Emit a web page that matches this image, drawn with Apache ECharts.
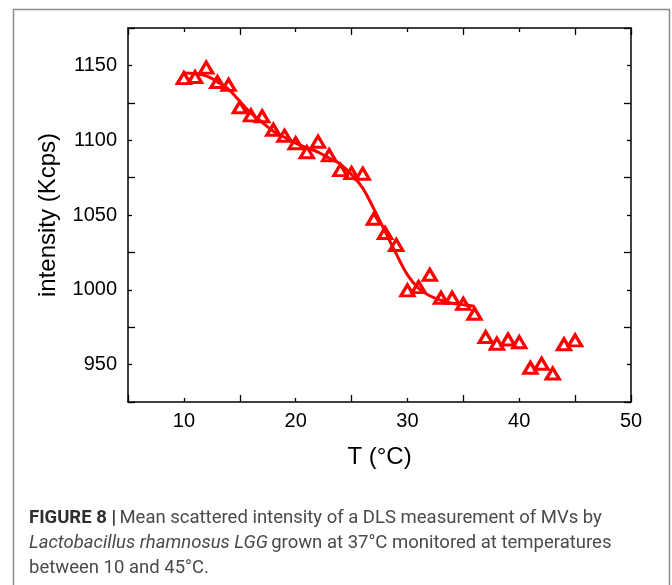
<!doctype html>
<html lang="en">
<head>
    <meta charset="UTF-8">
    <script src="https://cdn.jsdelivr.net/npm/echarts@6/dist/echarts.min.js"></script>
    <title>DLS intensity vs temperature</title>
    <style>
        html, body { margin: 0; padding: 0; background: #fff; }
    </style>
</head>
<body>
<div id="main" style="width: 672px;height:585px;"></div>
<script>
    // measured points (T in °C, intensity in Kcps)
    var temps = [10, 11, 12, 13, 14, 15, 16, 17, 18, 19, 20, 21, 22, 23, 24, 25, 26, 27,
        28, 29, 30, 31, 32, 33, 34, 35, 36, 37, 38, 39, 40, 41, 42, 43, 44, 45];
    var intensity = [1141.5, 1142.2, 1148.5, 1138.9, 1137, 1122, 1116.6, 1116, 1107, 1103,
        1098, 1092, 1099, 1090, 1080, 1078, 1077.6, 1047.5, 1038, 1030, 999.6, 1001.8, 1010,
        994.6, 994.6, 990.6, 984, 968.4, 964, 966.8, 965, 947.9, 950.6, 944, 963.6, 966.2];

    // fitted curve
    var fitT = [10, 11, 12, 13, 14, 15, 16, 17, 18, 19, 20, 21, 22, 23, 24, 25, 26, 27,
        28, 29, 30, 31, 32, 33, 34, 35, 36];
    var fitY = [1145, 1144.5, 1143, 1139, 1134, 1126, 1118, 1112, 1106, 1102, 1098, 1095,
        1092, 1088, 1084, 1077, 1068, 1054, 1039, 1024, 1010, 1001, 996, 993, 991, 990, 989];

    var xTicks = [10, 20, 30, 40, 50];
    var yTicks = [950, 1000, 1050, 1100, 1150];

    var myChart = echarts.init(document.getElementById('main'));

    var pts = [];
    for (var i = 0; i < temps.length; i++) {
        pts.push([temps[i], intensity[i]]);
    }
    var fit = [];
    for (var j = 0; j < fitT.length; j++) {
        fit.push([fitT[j], fitY[j]]);
    }

    var axisFont = '"Liberation Sans", Arial, sans-serif';
    var capFont = 'Roboto, "Liberation Sans", sans-serif';

    function frameAxis(pos, isX) {
        return {
            type: 'value',
            position: pos,
            min: isX ? 5 : 925,
            max: isX ? 50 : 1175,
            interval: isX ? 10 : 50,
            axisLine: {show: true, onZero: false, lineStyle: {color: '#000', width: 1.5}},
            axisTick: {show: true, inside: true, length: 7, lineStyle: {color: '#000', width: 1.3}},
            minorTick: {show: true, splitNumber: 2, length: 4, lineStyle: {color: '#000', width: 1.3}},
            splitLine: {show: false},
            axisLabel: {show: false}
        };
    }

    var xMain = frameAxis('bottom', true);
    xMain.axisLabel = {
        show: true, margin: 9, color: '#000', fontSize: 20, fontFamily: axisFont,
        customValues: xTicks,
        formatter: function (v) { return String(v); }
    };
    xMain.name = 'T (°C)';
    xMain.nameLocation = 'middle';
    xMain.nameGap = 43;
    xMain.nameTextStyle = {color: '#000', fontSize: 24, fontFamily: axisFont};

    var yMain = frameAxis('left', false);
    yMain.axisLabel = {
        show: true, margin: 11, color: '#000', fontSize: 20, fontFamily: axisFont,
        customValues: yTicks,
        formatter: function (v) { return String(v); }
    };
    yMain.name = 'intensity (Kcps)';
    yMain.nameLocation = 'middle';
    yMain.nameGap = 68;
    yMain.nameTextStyle = {color: '#000', fontSize: 24, fontFamily: axisFont};

    var option = {
        animation: false,
        backgroundColor: '#fff',
        grid: {left: 128, right: 41, top: 28, bottom: 183, containLabel: false},
        xAxis: [xMain, frameAxis('top', true)],
        yAxis: [yMain, frameAxis('right', false)],
        series: [
            {
                type: 'line',
                data: fit,
                smooth: 0.4,
                showSymbol: false,
                lineStyle: {color: '#ff0000', width: 3},
                z: 2
            },
            {
                type: 'scatter',
                data: pts,
                symbol: 'triangle',
                symbolSize: [13, 11],
                itemStyle: {color: 'rgba(0,0,0,0)', borderColor: '#ff0000', borderWidth: 3.2, opacity: 1},
                z: 3
            }
        ],
        graphic: [
            {
                type: 'rect',
                silent: true,
                shape: {x: 13.5, y: 9.5, width: 656, height: 620},
                style: {fill: 'none', stroke: '#8c8c8c', lineWidth: 1.5}
            },
            {
                type: 'text',
                left: 29, top: 509,
                style: {
                    text: '{b|FIGURE 8 |} {r|Mean scattered intensity of a DLS measurement of MVs by}',
                    rich: {
                        b: {fontFamily: capFont, fontSize: 18.5, fontWeight: 'bold', fill: '#2e2e2e'},
                        r: {fontFamily: capFont, fontSize: 18.5, fill: '#4a4a4a'}
                    }
                }
            },
            {
                type: 'text',
                left: 29, top: 534,
                style: {
                    text: '{i|Lactobacillus rhamnosus LGG} {r|grown at 37°C monitored at temperatures}',
                    rich: {
                        i: {fontFamily: capFont, fontSize: 18.5, fontStyle: 'italic', fill: '#4a4a4a'},
                        r: {fontFamily: capFont, fontSize: 18.5, fill: '#4a4a4a'}
                    }
                }
            },
            {
                type: 'text',
                left: 29, top: 559,
                style: {
                    text: 'between 10 and 45°C.',
                    fontFamily: capFont, fontSize: 18.5, fill: '#4a4a4a'
                }
            }
        ]
    };

    myChart.setOption(option);
</script>
</body>
</html>
